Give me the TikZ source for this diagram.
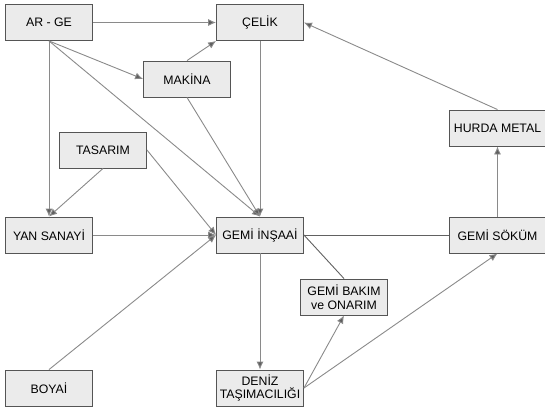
\documentclass[tikz,border=0pt]{standalone}
\usepackage{fontspec}
\setmainfont{Liberation Sans}
\usepackage{tikz}
\usetikzlibrary{calc, positioning, arrows.meta}

\definecolor{kutu}{HTML}{EBEBEB}
\definecolor{kenar}{HTML}{555555}
\definecolor{cizgi}{HTML}{8A8A8A}
\definecolor{uc}{HTML}{5E5E5E}

\tikzset{
    kutu/.style={draw=kenar, fill=kutu, line width=0.9pt, minimum width=87pt,
        minimum height=36pt, inner sep=1pt, align=center,
        font=\fontsize{12.3}{13.5}\selectfont},
    ok/.style={-{Latex[length=8pt, width=7pt, fill=uc]}, draw=cizgi, line width=0.9pt},
    bag/.style={draw=cizgi!70!black, line width=0.9pt}
}

\begin{document}
\begin{tikzpicture}[x=1pt, y=-1pt]
    \useasboundingbox (0,0) rectangle (545,408);
    % 1. Kutular
    \node[kutu] (arge)   at (49,22.5)  {AR - GE};
    \node[kutu] (celik)  at (260,22.5) {ÇELİK};
    \node[kutu] (makina) at (187,79)   {MAKİNA};
    \node[kutu] (tasarim) at (103,150) {TASARIM};
    \node[kutu] (yan)    at (49,235)   {YAN SANAYİ};
    \node[kutu] (insa)   at (260,235)  {GEMİ İNŞAAİ};
    \node[kutu, minimum width=97pt] (hurda) at (497.5,128) {HURDA METAL};
    \node[kutu, minimum width=97pt] (sokum) at (497.5,235) {GEMİ SÖKÜM};
    \node[kutu] (bakim)  at (344,297)  {GEMİ BAKIM\\ve ONARIM};
    \node[kutu, inner sep=0pt] (deniz) at (260,388) {DENİZ\\TAŞIMACILIĞI};
    \node[kutu] (boya)   at (49,388)   {BOYAİ};

    % 2. Oklar
    \draw[ok] (arge) -- (celik);
    \draw[ok] (arge.south) -- (makina.west);
    \draw[ok] (arge) -- (yan);
    \draw[ok] (arge.south) -- (insa.north);
    \draw[ok] (makina.north) -- (celik.south west);
    \draw[ok] (makina.south) -- (insa.north);
    \draw[ok] (celik) -- (insa);
    \draw[ok] (tasarim.south) -- (yan.north);
    \draw[ok] (tasarim.east) -- (insa.west);
    \draw[ok] (yan) -- (insa);
    \draw[ok] (boya.north) -- (insa.west);
    \draw[ok] (insa) -- (deniz);
    \draw[ok] (deniz.east) -- (bakim.south);
    \draw[ok] (deniz.east) -- (sokum.south);
    \draw[ok] (sokum) -- (hurda);
    \draw[ok] (hurda.north) -- (celik.east);

    % 3. Oksuz baglar
    \draw[bag] (insa) -- (sokum);
    \draw[bag] (insa.east) -- (bakim.north);
\end{tikzpicture}
\end{document}
